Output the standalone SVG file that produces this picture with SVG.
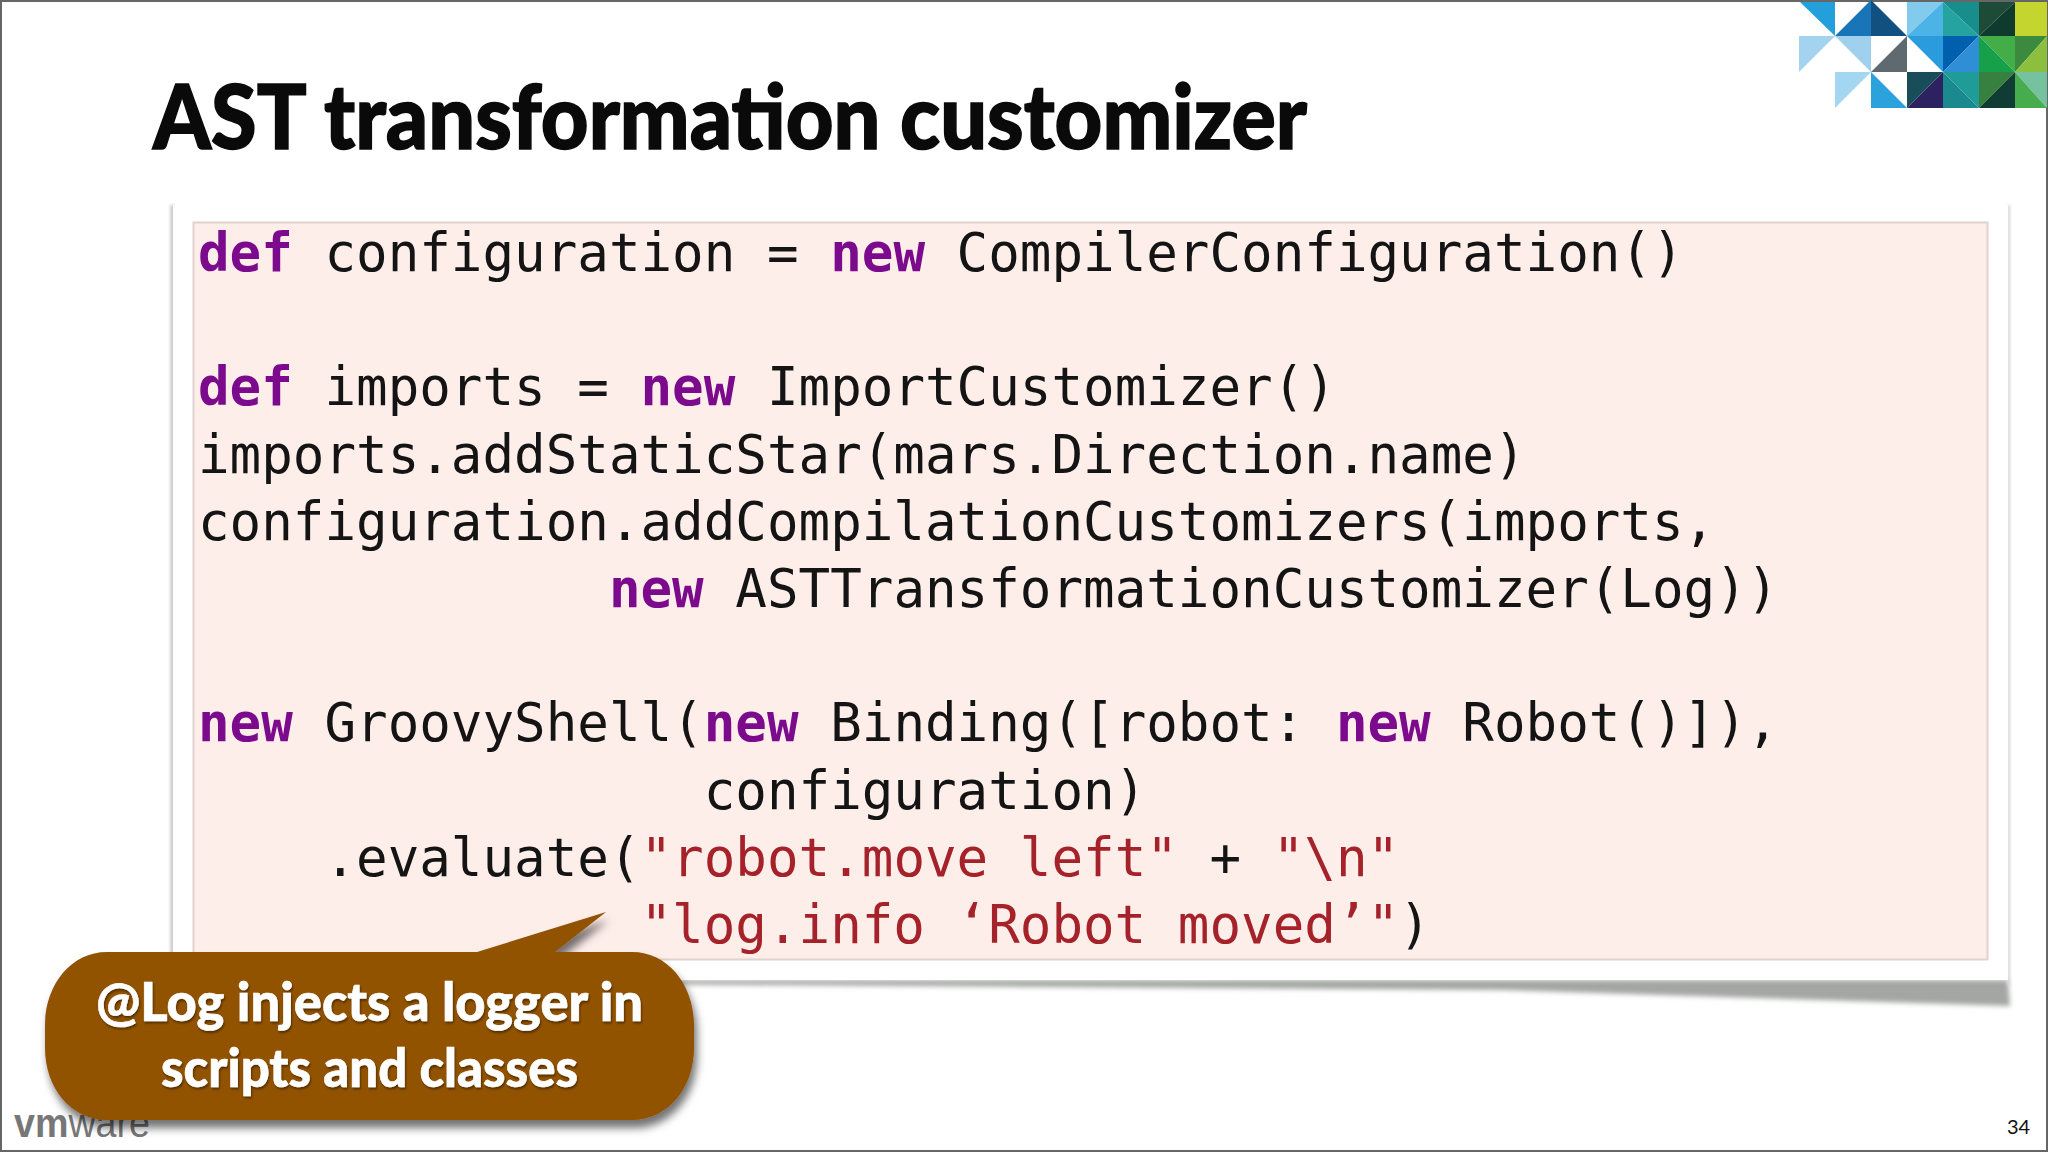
<svg xmlns="http://www.w3.org/2000/svg" width="2048" height="1152" viewBox="0 0 2048 1152">
<style>
.code{font-family:"DejaVu Sans Mono","Liberation Mono",monospace;font-size:52.5px;fill:#141414;white-space:pre}
.k{fill:#7b0a8c;font-weight:700}
.s{fill:#a5222a}
.call{font-family:Lato,"Open Sans",sans-serif;font-weight:900;font-size:54px;fill:#fff;text-anchor:start;stroke:#fff;stroke-width:.6px}
</style>
<defs>
<filter id="b2" x="-5%" y="-50%" width="110%" height="200%"><feGaussianBlur stdDeviation="2.5"/></filter>
<filter id="b1" x="-200%" y="-5%" width="500%" height="110%"><feGaussianBlur stdDeviation="1.5"/></filter>
<filter id="cs" x="-10%" y="-20%" width="120%" height="140%"><feDropShadow dx="3" dy="8" stdDeviation="4" flood-color="#000" flood-opacity=".55"/></filter>
<filter id="ts" x="-5%" y="-20%" width="110%" height="140%"><feDropShadow dx="1" dy="2" stdDeviation="1" flood-color="#000" flood-opacity=".45"/></filter>
</defs>
<rect x="1" y="1" width="2046" height="1150" fill="#fff" stroke="#666" stroke-width="2"/>
<g id="logo-tiles">
<path fill="#23a0dc" d="M1800 2L1835 2L1835 36Z"/>
<path fill="#1a74b8" d="M1835 36L1871 0L1871 36Z"/>
<path fill="#11507f" d="M1871 0L1871 36L1907 36Z"/>
<path fill="#82cbef" d="M1907 2H1943L1907 36Z"/>
<path fill="#4cb3e6" d="M1943 2V36H1907Z"/>
<path fill="#188e8c" d="M1943 2H1979V36Z"/>
<path fill="#24a3a0" d="M1943 2V36H1979Z"/>
<path fill="#1e4a38" d="M1979 2H2015L1979 36Z"/>
<path fill="#0f3a2e" d="M2015 2V36H1979Z"/>
<path fill="#c4d52f" d="M2015 2H2047V36H2015Z"/>
<path fill="#a3d3ef" d="M1799 36H1835L1799 72Z"/>
<path fill="#9fd0ee" d="M1835 36H1871V72Z"/>
<path fill="#5e6a70" d="M1871 72L1907 36V72Z"/>
<path fill="#2a9bdc" d="M1907 36H1943V72Z"/>
<path fill="#0060ae" d="M1943 36H1979L1943 72Z"/>
<path fill="#2f8fd6" d="M1979 36V72H1943Z"/>
<path fill="#43ad48" d="M1979 36H2015V72Z"/>
<path fill="#17a04a" d="M1979 36V72H2015Z"/>
<path fill="#3b8a3d" d="M2015 36H2047L2015 72Z"/>
<path fill="#8dbf3e" d="M2047 36V72H2015Z"/>
<path fill="#a3d6f0" d="M1835 72H1871L1835 108Z"/>
<path fill="#2ca2dd" d="M1871 72L1907 108H1871Z"/>
<path fill="#1a4d5a" d="M1907 72H1943L1907 108Z"/>
<path fill="#2c2260" d="M1943 72V108H1907Z"/>
<path fill="#1f9c98" d="M1943 72H1979V108Z"/>
<path fill="#1a8a8e" d="M1943 72V108H1979Z"/>
<path fill="#37803f" d="M1979 72H2015L1979 108Z"/>
<path fill="#0f3d33" d="M2015 72V108H1979Z"/>
<path fill="#74c2a0" d="M2015 72H2047V108Z"/>
<path fill="#47ac4b" d="M2015 72V108H2047Z"/>
</g>
<text id="title" x="153" y="149" font-family="Lato,'Open Sans',sans-serif" font-weight="900" font-size="90" fill="#0a0a0a" stroke="#0a0a0a" stroke-width="1.5" textLength="1154" lengthAdjust="spacingAndGlyphs">AST transformation customizer</text>
<g id="code-panel">
<path fill="#a3a6a3" filter="url(#b2)" d="M600 980H2008L2010 1006L1500 990L600 984Z"/>
<rect x="170.500" y="205" width="4" height="760" fill="#c4c4c4" filter="url(#b1)"/>
<rect x="2007" y="205" width="3" height="780" fill="#d4d4d8" filter="url(#b1)"/>
<rect x="173" y="205" width="1835" height="775" fill="#fff"/>
<rect x="193.500" y="222.500" width="1794" height="737" fill="#feeeea" stroke="#e2d2ce" stroke-width="2"/>
<text class="code" xml:space="preserve" x="198" y="271"><tspan class="k">def</tspan> configuration = <tspan class="k">new</tspan> CompilerConfiguration()</text>
<text class="code" xml:space="preserve" x="198" y="405.400"><tspan class="k">def</tspan> imports = <tspan class="k">new</tspan> ImportCustomizer()</text>
<text class="code" xml:space="preserve" x="198" y="472.600">imports.addStaticStar(mars.Direction.name)</text>
<text class="code" xml:space="preserve" x="198" y="539.800">configuration.addCompilationCustomizers(imports,</text>
<text class="code" xml:space="preserve" x="198" y="607">             <tspan class="k">new</tspan> ASTTransformationCustomizer(Log))</text>
<text class="code" xml:space="preserve" x="198" y="741.400"><tspan class="k">new</tspan> GroovyShell(<tspan class="k">new</tspan> Binding([robot: <tspan class="k">new</tspan> Robot()]),</text>
<text class="code" xml:space="preserve" x="198" y="808.600">                configuration)</text>
<text class="code" xml:space="preserve" x="198" y="875.800">    .evaluate(<tspan class="s">"robot.move left"</tspan> + <tspan class="s">"\n"</tspan></text>
<text class="code" xml:space="preserve" x="198" y="943"><tspan class="s">              "log.info ‘Robot moved’"</tspan>)</text>
</g>
<text id="vmware" x="14" y="1137" font-family="'Liberation Sans',Arial,sans-serif" font-size="40" fill="#777" textLength="136" lengthAdjust="spacingAndGlyphs"><tspan font-weight="700">vm</tspan>ware</text>
<text id="page" x="2007" y="1134" font-family="Lato,sans-serif" font-size="20" fill="#111">34</text>
<g id="callout">
<path filter="url(#cs)" fill="#925200" d="M107 952H477L606 912L555 952H632C668 952 694 985 694 1025V1048C694 1088 668 1120 632 1120H107C71 1120 45 1088 45 1048V1025C45 985 71 952 107 952Z"/>
<g filter="url(#ts)">
<text class="call" x="96" y="1021" textLength="547" lengthAdjust="spacingAndGlyphs">@Log injects a logger in</text>
<text class="call" x="161" y="1087" textLength="417" lengthAdjust="spacingAndGlyphs">scripts and classes</text>
</g>
</g>
</svg>
